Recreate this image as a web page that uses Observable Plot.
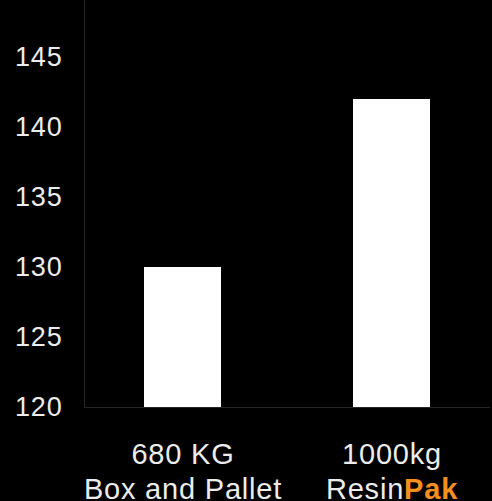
<!DOCTYPE html>
<html>
<head>
<meta charset="utf-8">
<script src="https://cdn.jsdelivr.net/npm/d3@7"></script>
<script src="https://cdn.jsdelivr.net/npm/@observablehq/plot@0.6"></script>
<style>
  html, body { margin: 0; padding: 0; background: #000; }
  #chart { width: 492px; height: 501px; overflow: hidden; }
</style>
</head>
<body>
<div id="chart"></div>
<script>
const categories = ["680 KG\nBox and Pallet", "1000kg\nResinPak"];
const values = [130, 142];
const yTicks = [120, 125, 130, 135, 140, 145];
const accentWord = "Pak";

const data = categories.map((c, i) => ({category: c, value: values[i]}));

const chart = Plot.plot({
  width: 492,
  height: 501,
  marginLeft: 84,
  marginRight: 2,
  marginTop: 0,
  marginBottom: 94,
  style: {background: "#000", color: "#ececec", fontFamily: "'Liberation Sans', Arial, sans-serif", fontSize: "27px"},
  x: {domain: categories, paddingInner: 0.63, paddingOuter: 0.285, axis: null, label: null},
  y: {domain: [120, 145], range: [407, 57], axis: null, label: null},
  marks: [
    Plot.frame({anchor: "left", stroke: "#262626"}),
    Plot.ruleY([120], {stroke: "#262626"}),
    Plot.barY(data, {x: "category", y1: 120, y2: "value", fill: "#ffffff"}),
    Plot.axisY({ticks: yTicks, tickSize: 0, tickPadding: 22, fontSize: 27, fill: "#ececec", label: null}),
    Plot.axisX({tickSize: 0, tickPadding: 32, fontSize: 29, lineHeight: 1.2, fill: "#ececec", label: null})
  ]
});

// colour the accent part of the product name
chart.querySelectorAll("tspan, text").forEach(el => {
  if (el.childElementCount === 0 && el.textContent.endsWith(accentWord) && el.textContent.length > accentWord.length) {
    const base = el.textContent.slice(0, -accentWord.length);
    el.textContent = base;
    const t = document.createElementNS("http://www.w3.org/2000/svg", "tspan");
    t.textContent = accentWord;
    t.setAttribute("fill", "#f5901e");
    t.setAttribute("font-weight", "bold");
    el.appendChild(t);
  }
});
chart.querySelectorAll("text").forEach(t => { t.style.letterSpacing = "0.8px"; });

document.getElementById("chart").appendChild(chart);
</script>
</body>
</html>
